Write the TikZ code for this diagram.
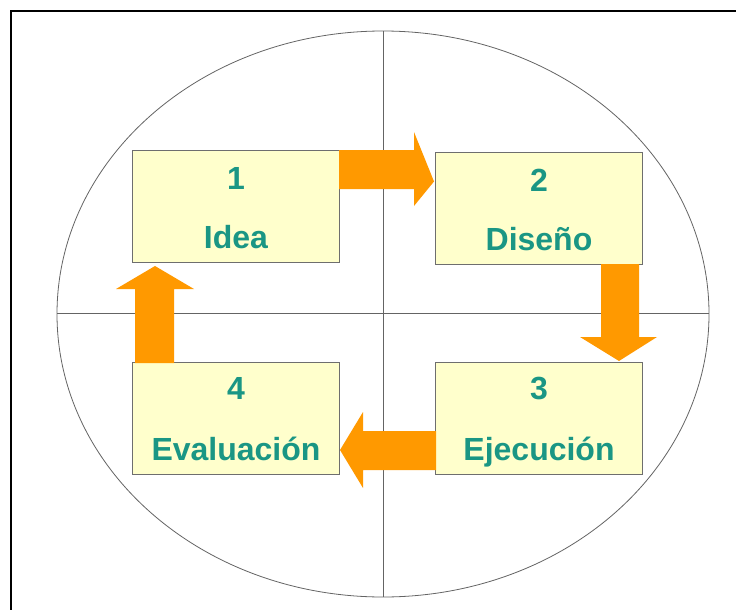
\documentclass[tikz,border=0pt]{standalone}
\usepackage{fontspec}
\setmainfont{Liberation Sans}
\usetikzlibrary{calc}
\definecolor{boxfill}{RGB}{255,255,204}
\definecolor{boxline}{RGB}{110,110,110}
\definecolor{teal1}{RGB}{26,150,132}
\definecolor{orng}{RGB}{255,153,0}
\definecolor{axis}{RGB}{100,100,100}
\tikzset{
  stagebox/.style={draw=boxline, line width=1pt, fill=boxfill, minimum width=207pt, minimum height=112pt, inner sep=0pt, anchor=north west},
  stagetxt/.style={text=teal1, font=\fontsize{32}{38}\selectfont\bfseries, anchor=base, inner sep=0pt},
  blockarrow/.style={fill=orng, draw=none},
  axisline/.style={draw=axis, line width=0.8pt}
}
\begin{document}
\begin{tikzpicture}[x=1pt,y=-1pt]
\useasboundingbox (0,0) rectangle (736,610);
\fill[white] (0,0) rectangle (736,610);
% frame (left and top edges visible)
\draw[line width=2pt] (11,610) -- (11,11) -- (736,11);
% ellipse and axes
\draw[axisline] (383,314) ellipse [x radius=326, y radius=283];
\coordinate (vt) at (383,31);
\coordinate (vb) at (383,597);
\coordinate (hl) at (57,313);
\coordinate (hr) at (709,313);
\draw[axisline] (vt) -- (vb);
\draw[axisline] (hl) -- (hr);
% boxes
\node[stagebox] (b1) at (132,150) {};
\node[stagebox] (b2) at (435,152) {};
\node[stagebox] (b3) at (435,362) {};
\node[stagebox] (b4) at (132,362) {};
% texts
\node[stagetxt] (n1) at ($(b1.north)+(0,39)$) {1};
\node[stagetxt] (t1) at ($(b1.north)+(0,98)$) {Idea};
\node[stagetxt] (n2) at ($(b2.north)+(0,39)$) {2};
\node[stagetxt] (t2) at ($(b2.north)+(0,98)$) {Diseño};
\node[stagetxt] (n3) at ($(b3.north)+(0,37)$) {3};
\node[stagetxt] (t3) at ($(b3.north)+(0,98)$) {Ejecución};
\node[stagetxt] (n4) at ($(b4.north)+(0,37)$) {4};
\node[stagetxt] (t4) at ($(b4.north)+(0,98)$) {Evaluación};
% arrow 1 -> 2
\fill[blockarrow] ($(b1.north east)+(-1,0)$) -- ++(75,0) -- ++(0,-18) -- ($(b2.west)+(-1,-27)$)
  -- ($(b1.north east)+(74,56)$) -- ++(0,-17) -- ($(b1.north east)+(-1,39)$) -- cycle;
% arrow 2 -> 3
\fill[blockarrow] ($(b2.south east)+(-42,-1)$) -- ++(38,0) -- ++(0,73) -- ++(18,0)
  -- ($(b3.north east)+(-24,-1)$) -- ($(b2.south east)+(-63,72)$) -- ++(21,0) -- cycle;
% arrow 3 -> 4
\fill[blockarrow] ($(b3.south west)+(1,-44)$) -- ++(0,39) -- ++(-73,0) -- ++(0,18)
  -- ($(b4.south east)+(0,-25)$) -- ($(b4.south east)+(23,-63)$) -- ++(0,19) -- cycle;
% arrow 4 -> 1
\fill[blockarrow] ($(b4.north west)+(3,1)$) -- ++(39,0) -- ++(0,-74) -- ++(20,0)
  -- ($(b1.south west)+(23,3)$) -- ($(b4.north west)+(-16,-73)$) -- ++(19,0) -- cycle;
\end{tikzpicture}
\end{document}
